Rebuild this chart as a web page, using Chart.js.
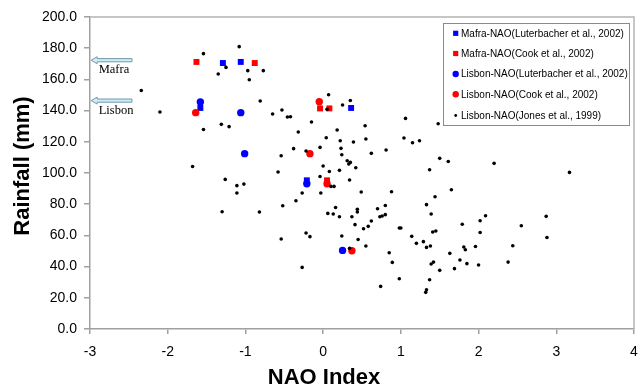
<!DOCTYPE html>
<html>
<head>
<meta charset="utf-8">
<script src="https://cdn.jsdelivr.net/npm/chart.js@4.4.1/dist/chart.umd.min.js"></script>
<style>
html,body{margin:0;padding:0;background:#fff;}
#c{display:block;}
</style>
</head>
<body>
<canvas id="c" width="640" height="389"></canvas>
<script>
// ---- data ----
const seriesNames = [
  'Mafra-NAO(Luterbacher et al., 2002)',
  'Mafra-NAO(Cook et al., 2002)',
  'Lisbon-NAO(Luterbacher et al., 2002)',
  'Lisbon-NAO(Cook et al., 2002)',
  'Lisbon-NAO(Jones et al., 1999)'
];
const mafraLutNAO  = [-1.29, -1.06, -1.58, 0.36, -0.21];
const mafraLutRain = [170.5, 171.2, 141.7, 141.7, 95.3];
const mafraCookNAO  = [-1.63, -0.88, -0.04, 0.08, 0.05];
const mafraCookRain = [171.2, 170.5, 141.4, 141.4, 95.3];
const lisbonLutNAO  = [-1.58, -1.06, -1.01, -0.21, 0.25];
const lisbonLutRain = [145.5, 138.7, 112.4, 93.1, 50.4];
const lisbonCookNAO  = [-1.64, -0.05, -0.17, 0.05, 0.37];
const lisbonCookRain = [138.7, 145.7, 112.4, 93.1, 50.2];
const jonesNAO = [
  -2.34,-2.10,-1.68,-1.54,-1.35,-1.25,-1.08,-0.97,-0.77,-0.95,
  -0.81,-1.54,-1.31,-1.21,-1.26,-1.11,-1.02,-0.65,-0.53,-0.46,
  -0.42,-0.15,-0.32,0.07,0.05,0.25,0.35,0.54,0.55,0.18,
  0.04,0.22,0.39,-0.04,0.23,0.24,-0.38,-0.54,-0.22,0.31,
  0.35,0.33,0.42,0.00,0.08,0.21,-0.58,-0.04,0.34,0.10,
  0.14,-1.11,-1.30,-0.82,-0.52,-0.35,-0.27,-0.03,0.49,0.16,
  0.06,0.13,0.21,0.44,0.44,0.37,0.41,0.52,0.58,-0.22,
  -0.17,-0.54,0.24,0.45,0.34,0.55,-0.27,1.06,1.48,1.04,
  1.15,1.24,0.62,0.81,1.50,1.61,1.37,2.20,0.88,1.65,
  1.44,0.70,0.80,0.73,0.76,0.80,1.33,1.39,0.62,0.98,
  1.00,1.41,1.45,1.14,1.79,2.09,2.02,2.02,1.20,1.29,
  1.33,1.38,1.81,1.83,1.96,2.44,0.85,0.89,1.63,1.39,
  1.42,1.76,1.85,2.00,2.38,1.50,1.69,0.98,1.37,0.74,
  1.33,1.32,3.17,2.87,2.55,2.88
];
const jonesRain = [
  152.9,139.1,104.2,176.5,163.5,167.7,181.0,165.6,165.6,159.8,
  146.2,127.9,131.2,129.7,95.9,91.9,92.9,137.8,140.4,135.9,
  136.1,132.7,126.3,150.2,140.8,143.6,146.5,130.3,121.8,127.6,
  122.6,120.7,119.9,116.4,115.8,111.7,115.6,111.1,114.1,107.9,
  106.8,105.8,103.4,104.5,101.0,101.7,100.6,97.8,95.5,91.4,
  91.4,87.2,75.2,75.0,79.0,82.2,87.2,87.2,87.8,77.9,
  74.1,73.7,72.0,76.7,75.0,72.0,66.9,64.3,65.8,61.5,
  59.2,57.7,59.6,57.4,51.7,53.2,39.5,135.0,131.6,122.4,
  119.4,120.7,112.6,114.7,109.4,107.4,102.1,106.2,88.0,89.3,
  84.8,77.1,79.2,72.0,72.4,73.3,79.7,73.7,69.2,64.7,
  64.7,62.2,62.8,59.4,67.1,72.6,69.4,61.9,54.9,56.0,
  52.3,53.2,52.6,50.8,52.9,53.4,48.9,42.7,48.5,41.7,
  42.9,44.2,41.9,41.0,42.9,37.6,38.7,32.2,31.6,27.3,
  25.2,23.5,100.4,72.2,66.2,58.7
];
const xTicks = [-3,-2,-1,0,1,2,3,4];
const yTicks = [0,20,40,60,80,100,120,140,160,180,200];
const xTitle = 'NAO Index';
const yTitle = 'Rainfall (mm)';
const arrowLabels = ['Mafra', 'Lisbon'];
const arrowRain = [172.3, 146.4];

// ---- build chart ----
function pts(xs, ys){ return xs.map((x,i)=>({x:x, y:ys[i]})); }
const AXIS = '#a0a0a0';
const SANS = '"Liberation Sans", Arial, sans-serif';

const datasets = [
  {label: seriesNames[0], data: pts(mafraLutNAO, mafraLutRain), pointStyle:'rect', pointRadius:4.2, backgroundColor:'#0000ff', borderColor:'#0000ff', borderWidth:0, order:5},
  {label: seriesNames[1], data: pts(mafraCookNAO, mafraCookRain), pointStyle:'rect', pointRadius:4.2, backgroundColor:'#ff0000', borderColor:'#ff0000', borderWidth:0, order:4},
  {label: seriesNames[2], data: pts(lisbonLutNAO, lisbonLutRain), pointStyle:'circle', pointRadius:3.7, backgroundColor:'#0000ff', borderColor:'#0000ff', borderWidth:0, order:3},
  {label: seriesNames[3], data: pts(lisbonCookNAO, lisbonCookRain), pointStyle:'circle', pointRadius:3.7, backgroundColor:'#ff0000', borderColor:'#ff0000', borderWidth:0, order:2},
  {label: seriesNames[4], data: pts(jonesNAO, jonesRain), pointStyle:'circle', pointRadius:1.8, backgroundColor:'#000000', borderColor:'#000000', borderWidth:0, order:1}
];

const frame = {
  id:'frame',
  beforeDatasetsDraw(chart){
    const {ctx, chartArea:a} = chart;
    ctx.save();
    ctx.strokeStyle = '#b4b4b4';
    ctx.lineWidth = 1.5;
    ctx.beginPath();
    ctx.moveTo(a.left, a.top); ctx.lineTo(a.right, a.top); ctx.lineTo(a.right, a.bottom);
    ctx.stroke();
    ctx.restore();
  }
};

const titles = {
  id:'titles',
  afterDraw(chart){
    const {ctx} = chart;
    ctx.save();
    ctx.fillStyle = '#000';
    ctx.font = 'bold 22px ' + SANS;
    ctx.textAlign = 'center';
    ctx.textBaseline = 'middle';
    ctx.fillText(xTitle, 324, 378);
    ctx.translate(22.6, 166);
    ctx.rotate(-Math.PI/2);
    ctx.fillText(yTitle, 0, 0);
    ctx.restore();
  }
};

const annot = {
  id:'annot',
  afterDraw(chart){
    const {ctx} = chart;
    const xs = chart.scales.x, ys = chart.scales.y;
    ctx.save();
    arrowLabels.forEach((lab, i) => {
      const yc = ys.getPixelForValue(arrowRain[i]);
      const tip = xs.getPixelForValue(-2.985);
      const tail = xs.getPixelForValue(-2.46);
      const headLen = 6, headH = 3.5, shaftH = 1.6;
      ctx.beginPath();
      ctx.moveTo(tip, yc);
      ctx.lineTo(tip + headLen, yc - headH);
      ctx.lineTo(tip + headLen, yc - shaftH);
      ctx.lineTo(tail, yc - shaftH);
      ctx.lineTo(tail, yc + shaftH);
      ctx.lineTo(tip + headLen, yc + shaftH);
      ctx.lineTo(tip + headLen, yc + headH);
      ctx.closePath();
      ctx.fillStyle = '#c8f0f4';
      ctx.fill();
      ctx.strokeStyle = '#7896b0';
      ctx.lineWidth = 1;
      ctx.stroke();
      ctx.fillStyle = '#000';
      ctx.font = '12.5px "Liberation Serif", "Times New Roman", serif';
      ctx.textAlign = 'left';
      ctx.textBaseline = 'middle';
      ctx.fillText(lab, tip + 7.5, yc + 10);
    });
    ctx.restore();
  }
};

const boxLegend = {
  id:'boxLegend',
  afterDraw(chart){
    const {ctx} = chart;
    const bx = 443, by = 23, bw = 186, bh = 102;
    ctx.save();
    ctx.fillStyle = '#fff';
    ctx.fillRect(bx, by, bw, bh);
    ctx.strokeStyle = '#8a8a8a';
    ctx.lineWidth = 1;
    ctx.strokeRect(bx + 0.5, by + 0.5, bw, bh);
    ctx.font = '10px ' + SANS;
    ctx.textBaseline = 'middle';
    ctx.textAlign = 'left';
    const rowY = [33.3, 53.5, 74, 94.3, 115.5];
    chart.data.datasets.forEach((ds, i) => {
      const y = rowY[i];
      const mx = 455.7;
      ctx.fillStyle = ds.backgroundColor;
      if (ds.pointStyle === 'rect') {
        ctx.fillRect(mx - 2.6, y - 2.6, 5.2, 5.2);
      } else {
        ctx.beginPath();
        ctx.arc(mx, y, ds.pointRadius > 2 ? 3.2 : 1.4, 0, Math.PI*2);
        ctx.fill();
      }
      ctx.fillStyle = '#000';
      ctx.fillText(ds.label, 461, y + 0.5);
    });
    ctx.restore();
  }
};

new Chart(document.getElementById('c'), {
  type:'scatter',
  data:{datasets},
  options:{
    responsive:false,
    animation:false,
    devicePixelRatio:1,
    layout:{padding:{left:0, right:6, top:17, bottom:0}},
    plugins:{legend:{display:false}, tooltip:{enabled:false}},
    scales:{
      x:{
        type:'linear', min:-3, max:4,
        afterBuildTicks(s){ s.ticks = xTicks.map(v=>({value:v})); },
        ticks:{color:'#000', font:{family:SANS, size:14}, padding:10, callback:v=>String(v)},
        grid:{drawOnChartArea:false, drawTicks:true, tickLength:5, color:AXIS, lineWidth:1.5},
        border:{color:AXIS, width:1.5},
        afterFit(s){ s.height = 60; s.paddingRight = 0; s.paddingLeft = 0; }
      },
      y:{
        type:'linear', min:0, max:200,
        afterBuildTicks(s){ s.ticks = yTicks.map(v=>({value:v})); },
        ticks:{color:'#000', font:{family:SANS, size:14}, padding:7, callback:v=>Number(v).toFixed(1)},
        grid:{drawOnChartArea:false, drawTicks:true, tickLength:6, color:AXIS, lineWidth:1.5},
        border:{color:AXIS, width:1.5},
        afterFit(s){ s.width = 90; s.paddingTop = 0; s.paddingBottom = 0; }
      }
    }
  },
  plugins:[frame, titles, annot, boxLegend]
});
</script>
</body>
</html>
